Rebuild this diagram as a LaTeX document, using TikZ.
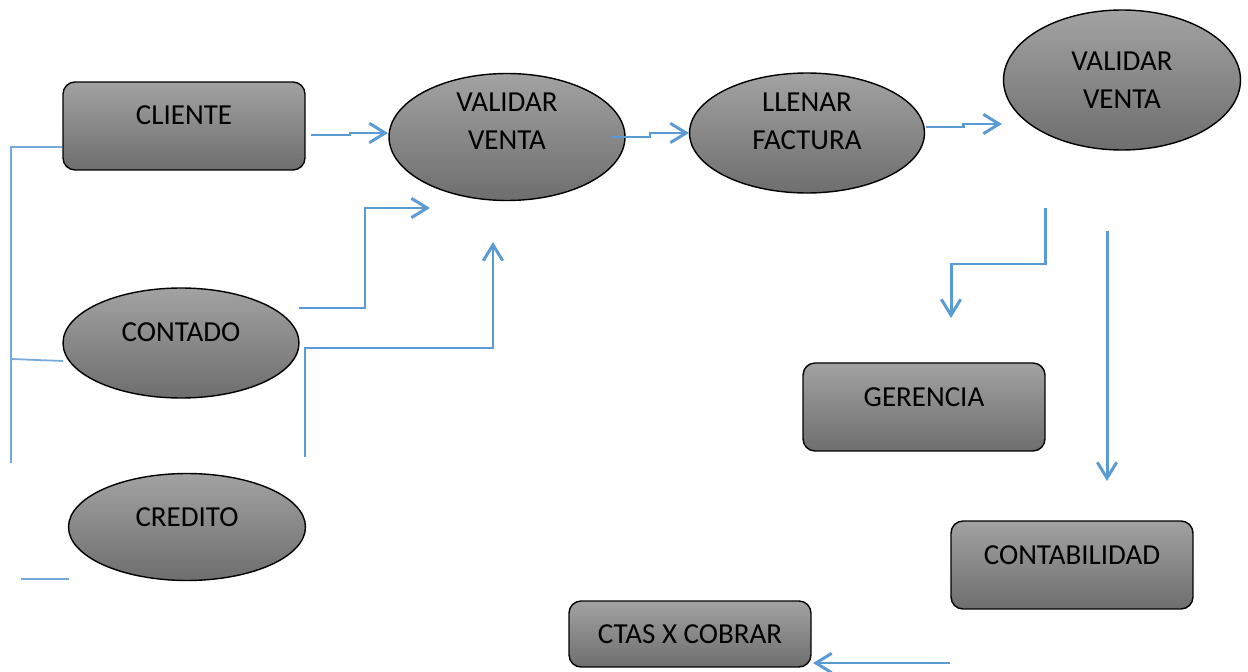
\documentclass[tikz,border=0pt]{standalone}
\usepackage{fontspec}
\setmainfont{Carlito}
\usetikzlibrary{shapes.geometric,arrows.meta}
\definecolor{flow}{HTML}{5B9BD5}
\definecolor{shadetop}{HTML}{A2A2A2}
\definecolor{shadebot}{HTML}{6E6E6E}
\tikzset{
  box/.style={draw=black,line width=0.8pt,rounded corners=0.24cm,
    top color=shadetop,bottom color=shadebot,minimum width=4.84cm,minimum height=1.76cm,inner sep=0pt},
  oval/.style={ellipse,draw=black,line width=0.8pt,
    top color=shadetop,bottom color=shadebot,inner sep=0pt},
  lbl/.style={font=\fontsize{16.5}{21.5}\selectfont,align=center,inner sep=0pt},
  flowarrow/.style={draw=flow,line width=1.7pt,
    -{Straight Barb[length=9pt,width=11pt,line width=1.7pt]}},
  bracket/.style={draw=flow!85,line width=1pt}
}
\begin{document}
\begin{tikzpicture}[x=0.02cm,y=-0.02cm]
\useasboundingbox (0,0) rectangle (1248,672);

% process shapes
\node[box] (cliente) at (184,126) {};
\node[lbl] (cliente-t) at (184,115) {CLIENTE};

\node[oval,minimum width=4.72cm,minimum height=2.54cm] (vv1) at (507,137) {};
\node[lbl] (vv1-t) at (507,121) {VALIDAR\\VENTA};

\node[oval,minimum width=4.70cm,minimum height=2.40cm] (llenar) at (807,133) {};
\node[lbl] (llenar-t) at (807,121) {LLENAR\\FACTURA};

\node[oval,minimum width=4.74cm,minimum height=2.80cm] (vv2) at (1122,80) {};
\node[lbl] (vv2-t) at (1122,80) {VALIDAR\\VENTA};

\node[oval,minimum width=4.72cm,minimum height=2.20cm] (contado) at (181,343) {};
\node[lbl] (contado-t) at (181,332) {CONTADO};

\node[oval,minimum width=4.74cm,minimum height=2.14cm] (credito) at (187,527) {};
\node[lbl] (credito-t) at (187,517) {CREDITO};

\node[box] (gerencia) at (924,407) {};
\node[lbl] (gerencia-t) at (924,397) {GERENCIA};

\node[box] (contab) at (1072,565) {};
\node[lbl] (contab-t) at (1072,555) {CONTABILIDAD};

\node[box,minimum height=1.32cm] (ctas) at (690,634) {};
\node[lbl] (ctas-t) at (690,634) {CTAS X COBRAR};

% connector ends
\coordinate (a1s) at (311,135);
\coordinate (a1e) at (388,133);
\coordinate (a2s) at (612,137);
\coordinate (a2e) at (689,133);
\coordinate (a3s) at (926,127);
\coordinate (a3e) at (1002,124);
\coordinate (a4s) at (299,308);
\coordinate (a4e) at (430,208);
\coordinate (a5s) at (305,457);
\coordinate (a5e) at (493,242);
\coordinate (a6s) at (1045,208);
\coordinate (a6e) at (951,318);
\coordinate (a7s) at (1107,231);
\coordinate (a7e) at (1107,481);
\coordinate (a8s) at (950,663);
\coordinate (a8e) at (813,663);

% flow arrows
\draw[flowarrow] (a1s) -- (350,135) -- (350,133) -- (a1e);
\draw[flowarrow] (a2s) -- (650,137) -- (650,133) -- (a2e);
\draw[flowarrow] (a3s) -- (963,127) -- (963,124) -- (a3e);
\draw[flowarrow] (a4s) -- (365,308) -- (365,208) -- (a4e);
\draw[flowarrow] (a5s) -- (305,348) -- (493,348) -- (a5e);
\draw[flowarrow] (a6s) -- (1045,264) -- (951,264) -- (a6e);
\draw[flowarrow] (a7s) -- (a7e);
\draw[flowarrow] (a8s) -- (a8e);

% left bracket
\coordinate (b1) at (11,147);
\coordinate (b2) at (11,463);
\coordinate (b3) at (11,359);
\coordinate (b4) at (21,579);
\coordinate (b5) at (69,579);
\draw[bracket] (b2) -- (b1) -- (cliente.west|-b1);
\draw[bracket] (b3) -- (63,361);
\draw[bracket] (b4) -- (b5);
\end{tikzpicture}
\end{document}
